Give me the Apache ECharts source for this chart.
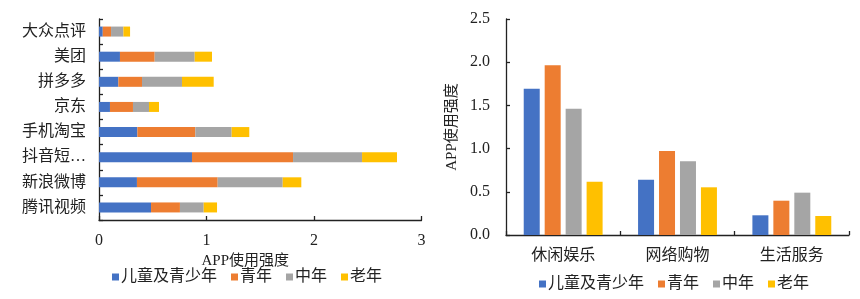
<!DOCTYPE html>
<html><head><meta charset="utf-8">
<script src="https://cdn.jsdelivr.net/npm/echarts@6/dist/echarts.min.js"></script>
<style>html,body{margin:0;padding:0;background:#fff}#c{width:860px;height:299px}</style>
</head><body><div id="c"></div>
<script>
// Left chart: stacked horizontal bars (top to bottom)
const appNames = ['大众点评','美团','拼多多','京东','手机淘宝','抖音短…','新浪微博','腾讯视频'];
const seriesNames = ['儿童及青少年','青年','中年','老年'];
const appChild  = [0.035, 0.195, 0.180, 0.102, 0.357, 0.865, 0.353, 0.484];
const appYouth  = [0.077, 0.323, 0.220, 0.214, 0.539, 0.940, 0.751, 0.269];
const appMiddle = [0.115, 0.372, 0.372, 0.149, 0.338, 0.642, 0.605, 0.221];
const appOld    = [0.062, 0.161, 0.295, 0.093, 0.164, 0.325, 0.173, 0.124];
// Right chart: grouped bars
const typeNames = ['休闲娱乐','网络购物','生活服务'];
const typeChild  = [1.693, 0.640, 0.228];
const typeYouth  = [1.964, 0.972, 0.397];
const typeMiddle = [1.462, 0.853, 0.490];
const typeOld    = [0.617, 0.552, 0.220];
const xTicksLeft = [0, 1, 2, 3];
const yTicksRight = [0, 0.5, 1, 1.5, 2, 2.5];

const colors = ['#4472C4','#ED7D31','#A5A5A5','#FFC000'];
const serif = '"Liberation Serif","Noto Sans CJK SC",serif';
const axisLine = {show:true, lineStyle:{color:'#222', width:1.3}};
const axisTick = {show:true, inside:true, length:4, lineStyle:{color:'#222', width:1.3}};

const leftData = [appChild, appYouth, appMiddle, appOld];
const rightData = [typeChild, typeYouth, typeMiddle, typeOld];

const series = [];
seriesNames.forEach((n,i)=>{
  series.push({name:n, type:'bar', stack:'s', xAxisIndex:0, yAxisIndex:0,
    data:leftData[i], barWidth:10, itemStyle:{color:colors[i]}});
});
seriesNames.forEach((n,i)=>{
  series.push({name:n, type:'bar', xAxisIndex:1, yAxisIndex:1,
    data:rightData[i], barWidth:16, barGap:'31%', itemStyle:{color:colors[i]}});
});

const legendCommon = {
  data: seriesNames, itemWidth:7, itemHeight:7, itemGap:14, icon:'rect',
  textStyle:{fontFamily:serif, fontSize:16, color:'#222', padding:[0,0,0,-3]}
};

const chart = echarts.init(document.getElementById('c'));
chart.setOption({
  animation:false,
  color: colors,
  legend: [
    Object.assign({left:107, top:264}, legendCommon),
    Object.assign({left:534, top:271}, legendCommon)
  ],
  grid: [
    {left:99, top:19, right:438.5, bottom:79, containLabel:false},
    {left:506, top:19, right:11, bottom:64, containLabel:false}
  ],
  xAxis: [
    {gridIndex:0, type:'value', min:xTicksLeft[0], max:xTicksLeft[xTicksLeft.length-1], interval:1,
     axisLine, axisTick, splitLine:{show:false},
     axisLabel:{fontFamily:serif, fontSize:16, color:'#222', margin:13},
     name:'APP使用强度', nameLocation:'middle', nameGap:26,
     nameTextStyle:{fontFamily:serif, fontSize:15, color:'#222', padding:[0,30,0,0]}},
    {gridIndex:1, type:'category', data:typeNames,
     axisLine, axisTick:{show:true, inside:true, length:4, alignWithLabel:false, lineStyle:{color:'#222', width:1.3}},
     axisLabel:{fontFamily:serif, fontSize:16, color:'#222', margin:13}},
  ],
  yAxis: [
    {gridIndex:0, type:'category', data:appNames, inverse:true,
     axisLine, axisTick,
     axisLabel:{fontFamily:serif, fontSize:16, color:'#222', margin:13}},
    {gridIndex:1, type:'value', min:yTicksRight[0], max:yTicksRight[yTicksRight.length-1], interval:0.5,
     axisLine, axisTick, splitLine:{show:false},
     axisLabel:{fontFamily:serif, fontSize:16, color:'#222', margin:16, formatter:v=>v.toFixed(1)},
     name:'APP使用强度', nameLocation:'middle', nameGap:46,
     nameTextStyle:{fontFamily:serif, fontSize:15, color:'#222'}}
  ],
  series
});
</script></body></html>
